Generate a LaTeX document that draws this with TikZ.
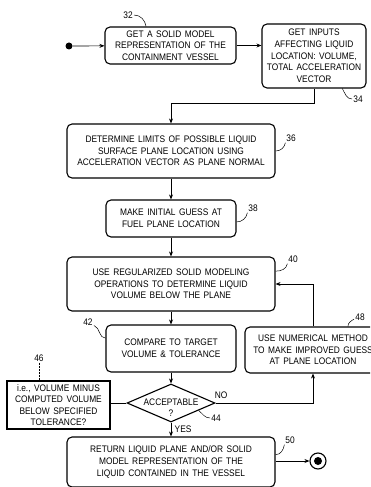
\documentclass[tikz,border=0pt]{standalone}
\usepackage{fontspec}
\setmainfont{Liberation Sans}[FakeStretch=0.88,WordSpace=1.5]
\usetikzlibrary{arrows.meta,shapes.geometric}

\begin{document}
\begin{tikzpicture}[x=1pt,y=-1pt,line width=0.7pt]
        \tikzstyle{block}=[rectangle,draw,rounded corners=5pt,line width=1.1pt,align=center,inner sep=2pt,font=\fontsize{9.5}{11.7}\selectfont]
        \tikzstyle{flow}=[-{Stealth[length=5pt,width=4pt]}]
        \tikzstyle{refnum}=[font=\fontsize{9.5}{11}\selectfont,inner sep=1pt]
        \tikzstyle{leader}=[line width=0.5pt]
        \clip (0,0) rectangle (370,487);
        \node [circle,fill,inner sep=0pt,minimum size=7pt] (start) at (69,46) {};
        \node [block,minimum width=131,minimum height=37] (getmodel) at (170.5,45.5) {GET A SOLID MODEL\\REPRESENTATION OF THE\\CONTAINMENT VESSEL};
        \node [block,minimum width=104,minimum height=64] (getinputs) at (314,56) {GET INPUTS\\AFFECTING LIQUID\\LOCATION: VOLUME,\\TOTAL ACCELERATION\\VECTOR};
        \node [block,minimum width=208,minimum height=54] (determine) at (171,151) {DETERMINE LIMITS OF POSSIBLE LIQUID\\SURFACE PLANE LOCATION USING\\ACCELERATION VECTOR AS PLANE NORMAL};
        \node [block,minimum width=130,minimum height=37] (guess) at (171,218.5) {MAKE INITIAL GUESS AT\\FUEL PLANE LOCATION};
        \node [block,minimum width=208,minimum height=54] (regularized) at (171,284) {USE REGULARIZED SOLID MODELING\\OPERATIONS TO DETERMINE LIQUID\\VOLUME BELOW THE PLANE};
        \node [block,minimum width=130,minimum height=47] (compare) at (171,348.5) {COMPARE TO TARGET\\VOLUME \& TOLERANCE};
        \node [block,minimum width=136,minimum height=46] (improve) at (313,350) {USE NUMERICAL METHOD\\TO MAKE IMPROVED GUESS\\AT PLANE LOCATION};
        \node [diamond,draw,line width=1.1pt,minimum width=88,minimum height=38,inner sep=0pt] (acc) at (171,403) {};
        \node [align=center,inner sep=0pt,font=\fontsize{9.5}{11}\selectfont] (acctext) at (171,408) {ACCEPTABLE\\?};
        \node [block,rounded corners=0pt,minimum width=103,minimum height=48,font=\fontsize{9.5}{11.4}\selectfont] (note) at (58.5,405) {i.e., VOLUME MINUS\\COMPUTED VOLUME\\BELOW SPECIFIED\\TOLERANCE?};
        \node [block,minimum width=208,minimum height=50] (returnplane) at (171,462) {RETURN LIQUID PLANE AND/OR SOLID\\MODEL REPRESENTATION OF THE\\LIQUID CONTAINED IN THE VESSEL};
        \node [circle,draw,line width=1.1pt,inner sep=0pt,minimum size=16pt] (finish) at (318,461) {};
        \node [circle,fill,inner sep=0pt,minimum size=8pt] (finishdot) at (finish) {};
        % reference numerals
        \node [refnum] (n32) at (128,15) {32};
        \node [refnum] (n34) at (358,99) {34};
        \node [refnum] (n36) at (291,138) {36};
        \node [refnum] (n38) at (253,208) {38};
        \node [refnum] (n40) at (293,259) {40};
        \node [refnum] (n48) at (360,317) {48};
        \node [refnum] (n42) at (88,322) {42};
        \node [refnum] (n46) at (39,358) {46};
        \node [refnum] (n44) at (216,418) {44};
        \node [refnum] (n50) at (290,440) {50};
        \draw [leader] (n32.east) to [out=0,in=100] (getmodel.142);
        \draw [leader] (n34.west) to [out=180,in=-60] (getinputs.-49);
        \draw [leader] (determine.east) to [out=0,in=-100] (n36.220);
        \draw [leader] (guess.-3) to [out=0,in=-100] (n38.220);
        \draw [leader] (regularized.7) to [out=0,in=-100] (n40.220);
        \draw [leader] (improve.34) to [out=90,in=-150] (n48.200);
        \draw [leader] (n42.-30) to [out=-20,in=180] (compare.171);
        \draw [leader] (acc.-15) to [out=-40,in=180] (n44.west);
        \draw [leader] (returnplane.4) to [out=0,in=-100] (n50.220);
        \draw [leader,densely dotted] (n46.south) -- (n46.south |- note.north);
        % flow
        \draw [flow] (start) -- (getmodel);
        \draw [flow] (getmodel.east) -- (getmodel.east -| getinputs.west);
        \draw [flow] (getinputs.south) -- ++(0,15) -| (determine.north);
        \draw [flow] (determine) -- (guess);
        \draw [flow] (guess) -- (regularized);
        \draw [flow] (regularized) -- (compare);
        \draw [flow] (compare) -- (acc);
        \draw [flow] (acc) -- node [right,font=\fontsize{9.5}{11}\selectfont] {YES} (returnplane);
        \draw [flow] (acc.east) -| node [pos=0,anchor=south west,xshift=-2pt,yshift=3pt,inner sep=1pt,font=\fontsize{9.5}{11}\selectfont] {NO} (improve.south);
        \draw [flow] (improve.north) |- (regularized.east);
        \draw (acc.west) -- (acc.west -| note.east);
        \draw [flow] (finish -| returnplane.east) -- (finish);
    \end{tikzpicture}
\end{document}
